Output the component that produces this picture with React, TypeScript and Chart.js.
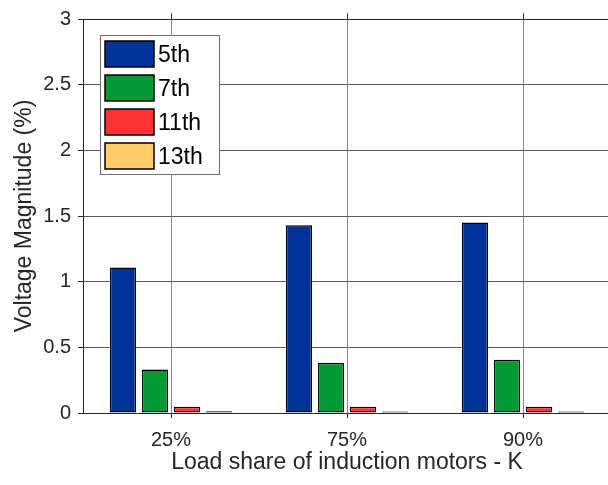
import React, { useEffect, useRef } from 'react';
import { Chart, registerables } from 'chart.js';

Chart.register(...registerables);

const categories = ['25%', '75%', '90%'];
const seriesLabels = ['5th', '7th', '11th', '13th'];
const harmonic5 = [1.107, 1.43, 1.451];
const harmonic7 = [0.331, 0.383, 0.406];
const harmonic11 = [0.047, 0.047, 0.047];
const harmonic13 = [0.013, 0.012, 0.012];
const yTickValues = [0, 0.5, 1, 1.5, 2, 2.5, 3];
const seriesColors = ['#003399', '#009933', '#FF3333', '#FFCC66'];

const FONT = '"Liberation Sans", Arial, Helvetica, sans-serif';
const AXIS_COLOR = '#262626';

const frameTopPlugin = {
  id: 'frameTop',
  afterDatasetsDraw(chart: any) {
    const { ctx, chartArea, scales } = chart;
    const y = Math.round(chartArea.top) + 0.5;
    ctx.save();
    ctx.strokeStyle = AXIS_COLOR;
    ctx.lineWidth = 1;
    ctx.beginPath();
    ctx.moveTo(chartArea.left, y);
    ctx.lineTo(chartArea.right, y);
    const xs = scales.x;
    categories.forEach((_, i) => {
      const px = Math.round(xs.getPixelForValue(i)) + 0.5;
      ctx.moveTo(px, y);
      ctx.lineTo(px, y - 6);
    });
    ctx.stroke();
    ctx.restore();
  },
};

const legendPlugin = {
  id: 'boxLegend',
  afterDraw(chart: any) {
    const { ctx, chartArea } = chart;
    const x0 = Math.round(chartArea.left) + 17;
    const y0 = Math.round(chartArea.top) + 16;
    const w = 119;
    const h = 139;
    ctx.save();
    ctx.fillStyle = '#ffffff';
    ctx.fillRect(x0, y0, w, h);
    ctx.strokeStyle = '#6e6e6e';
    ctx.lineWidth = 1;
    ctx.strokeRect(x0 + 0.5, y0 + 0.5, w, h);
    chart.data.datasets.forEach((ds: any, i: number) => {
      const sy = y0 + 6 + i * 34;
      ctx.fillStyle = ds.backgroundColor;
      ctx.fillRect(x0 + 5, sy, 49, 26);
      ctx.strokeStyle = '#000000';
      ctx.lineWidth = 1.5;
      ctx.strokeRect(x0 + 5, sy, 49, 26);
      ctx.fillStyle = '#000000';
      ctx.font = `23px ${FONT}`;
      ctx.textBaseline = 'middle';
      ctx.textAlign = 'left';
      ctx.fillText(ds.label, x0 + 58, sy + 15);
    });
    ctx.restore();
  },
};

export default function App() {
  const canvasRef = useRef<HTMLCanvasElement | null>(null);

  useEffect(() => {
    const canvas = canvasRef.current;
    if (!canvas) return;
    const seriesData = [harmonic5, harmonic7, harmonic11, harmonic13];
    const chart = new Chart(canvas, {
      type: 'bar',
      data: {
        labels: categories,
        datasets: seriesLabels.map((label, i) => ({
          label,
          data: seriesData[i],
          backgroundColor: seriesColors[i],
          borderColor: '#000000',
          borderWidth: 1.5,
          borderSkipped: false,
          categoryPercentage: 0.727,
          barPercentage: 0.82,
        })),
      },
      options: {
        responsive: false,
        animation: false,
        devicePixelRatio: 1,
        layout: { padding: { left: 0, top: 14, right: 9, bottom: 0 } },
        plugins: {
          legend: { display: false },
          tooltip: { enabled: false },
        },
        scales: {
          x: {
            type: 'category',
            offset: true,
            grid: {
              offset: false,
              color: '#8a8a8a',
              lineWidth: 1,
              tickLength: 5,
              tickColor: AXIS_COLOR,
            },
            border: { color: AXIS_COLOR, width: 1 },
            ticks: {
              color: AXIS_COLOR,
              font: { family: FONT, size: 20 },
              padding: 10,
              maxRotation: 0,
            },
            title: {
              display: true,
              text: 'Load share of induction motors - K',
              color: AXIS_COLOR,
              font: { family: FONT, size: 23 },
              padding: { top: 0, bottom: 9 },
            },
            afterFit(scale: any) {
              scale.height = 72;
            },
          },
          y: {
            min: 0,
            max: 3,
            grid: {
              color: '#5a5a5a',
              lineWidth: 1,
              tickLength: 5,
              tickColor: AXIS_COLOR,
            },
            border: { color: AXIS_COLOR, width: 1 },
            ticks: {
              color: AXIS_COLOR,
              font: { family: FONT, size: 20 },
              padding: 7,
              callback: (v: any) => String(v),
            },
            afterBuildTicks(scale: any) {
              scale.ticks = yTickValues.map((v) => ({ value: v }));
            },
            title: {
              display: true,
              text: 'Voltage Magnitude (%)',
              color: AXIS_COLOR,
              font: { family: FONT, size: 23 },
              padding: { top: 11, bottom: 0 },
            },
            afterFit(scale: any) {
              scale.width = 83;
            },
          },
        },
      },
      plugins: [frameTopPlugin, legendPlugin],
    } as any);
    return () => chart.destroy();
  }, []);

  return (
    <div
      style={{
        position: 'absolute',
        left: 0,
        top: 0,
        width: 608,
        height: 485,
        overflow: 'hidden',
        background: '#ffffff',
      }}
    >
      <canvas ref={canvasRef} width={620} height={485} style={{ display: 'block', width: 620, height: 485 }} />
    </div>
  );
}
